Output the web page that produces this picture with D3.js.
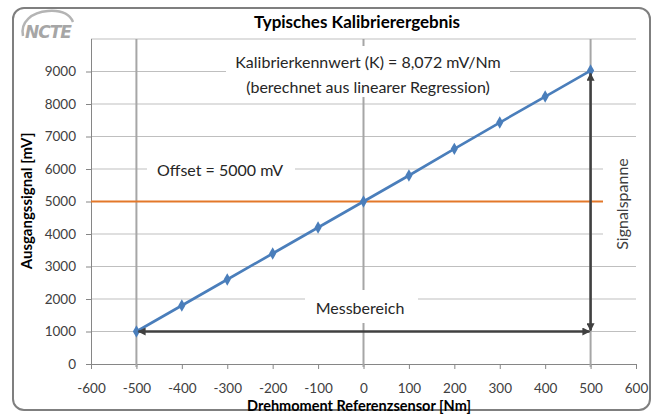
<!DOCTYPE html>
<html>
<head>
<meta charset="utf-8">
<script src="https://cdn.jsdelivr.net/npm/d3@7"></script>
<style>
  body { margin: 0; background: #fff; }
  svg text { font-family: Lato, "Open Sans", sans-serif; }
</style>
</head>
<body>
<div id="chart"></div>
<script>
// Messpunkte (Drehmoment Nm -> Ausgangssignal mV)
const torque = [-500, -400, -300, -200, -100, 0, 100, 200, 300, 400, 500];
const signal = [1000, 1800, 2600, 3400, 4200, 5000, 5800, 6620, 7430, 8230, 9030];
const xTicks = [-600, -500, -400, -300, -200, -100, 0, 100, 200, 300, 400, 500, 600];
const yTicks = [0, 1000, 2000, 3000, 4000, 5000, 6000, 7000, 8000, 9000, 10000];
const refLines = [-500, 0, 500];
const offset = 5000;

const width = 660;
const height = 414;

const svg = d3.select("#chart")
    .append("svg")
    .attr("width", width)
    .attr("height", height);

const x = d3.scaleLinear().domain([-600, 600]).range([91, 636]);
const y = d3.scaleLinear().domain([0, 10000]).range([364, 39]);

// Rahmen
svg.append("rect")
    .attr("x", 13).attr("y", 8)
    .attr("width", 637).attr("height", 402)
    .attr("rx", 11)
    .style("fill", "#fff")
    .style("stroke", "#7f7f7f")
    .style("stroke-width", 2);

// Logo
const logo = svg.append("g").attr("class", "logo");
logo.append("path")
    .attr("d", "M23,36 C20,22 32,12 48,11 C62,10 70,15 73,22")
    .style("fill", "none")
    .style("stroke", "#b4b4b4")
    .style("stroke-width", 2.5);
logo.append("text")
    .attr("x", 25).attr("y", 38)
    .style("font-family", "'DejaVu Sans', sans-serif")
    .style("font-size", "17px")
    .style("font-weight", "bold")
    .style("font-style", "italic")
    .style("fill", "#a6a6a6")
    .style("letter-spacing", "-1px")
    .text("NCTE");

// Titel
svg.append("text")
    .attr("x", 357).attr("y", 28)
    .attr("text-anchor", "middle")
    .style("font-size", "17px")
    .style("font-weight", "bold")
    .style("fill", "#000")
    .text("Typisches Kalibrierergebnis");

// Gitterlinien
svg.append("g")
    .selectAll("line")
    .data(yTicks.filter(d => d > 0))
    .enter()
    .append("line")
    .attr("x1", x(-600)).attr("x2", x(600))
    .attr("y1", d => y(d)).attr("y2", d => y(d))
    .style("stroke", "#bfbfbf")
    .style("stroke-width", 1);

// Achsen
const fmt = d => String(d);
const xAxis = svg.append("g")
    .attr("transform", `translate(0,${y(0)})`)
    .call(d3.axisBottom(x).tickValues(xTicks).tickFormat(fmt).tickSize(5).tickSizeOuter(0));
const yAxis = svg.append("g")
    .attr("transform", `translate(${x(-600)},0)`)
    .call(d3.axisLeft(y).tickValues(yTicks.filter(d => d < 10000)).tickFormat(fmt).tickSize(5).tickSizeOuter(0));

[xAxis, yAxis].forEach(ax => {
    ax.select(".domain").style("stroke", "#868686");
    ax.selectAll(".tick line").style("stroke", "#868686");
    ax.selectAll(".tick text")
        .style("font-family", "Lato, sans-serif")
        .style("font-size", "13.5px")
        .style("fill", "#404040");
});
xAxis.selectAll(".tick text").attr("dy", "1.1em").attr("y", 14);
yAxis.selectAll(".tick text").attr("x", -15);
yAxis.select(".domain").attr("d", `M0.5,${y(0)}V${y(10000)}`);

// Referenzlinien bei -500, 0, 500
svg.append("g")
    .selectAll("line")
    .data(refLines)
    .enter()
    .append("line")
    .attr("x1", d => x(d)).attr("x2", d => x(d))
    .attr("y1", y(10000)).attr("y2", y(0) + 3)
    .style("stroke", "#a6a6a6")
    .style("stroke-width", 2);

// Offset-Linie
svg.append("line")
    .attr("x1", x(-600)).attr("x2", x(600))
    .attr("y1", y(offset)).attr("y2", y(offset))
    .style("stroke", "#e3782a")
    .style("stroke-width", 2.2);

// weisse Textfelder
const boxes = [
    { x: 226, y: 46, w: 284, h: 51 },
    { x: 147, y: 160, w: 148, h: 22 },
    { x: 305, y: 290, w: 113, h: 33 },
    { x: 603, y: 146, w: 36, h: 110 },
];
svg.append("g")
    .selectAll("rect")
    .data(boxes)
    .enter()
    .append("rect")
    .attr("x", d => d.x).attr("y", d => d.y)
    .attr("width", d => d.w).attr("height", d => d.h)
    .style("fill", "#fff");

// Messkurve
const line = d3.line()
    .x((d, i) => x(torque[i]))
    .y(d => y(d));

svg.append("path")
    .datum(signal)
    .attr("d", line)
    .style("fill", "none")
    .style("stroke", "#4a7ebb")
    .style("stroke-width", 2.6);

svg.append("g")
    .selectAll("path")
    .data(signal)
    .enter()
    .append("path")
    .attr("transform", (d, i) => `translate(${x(torque[i])},${y(d)})`)
    .attr("d", d3.symbol().type(d3.symbolDiamond).size(44))
    .style("fill", "#4a7ebb");

// Pfeile
const defs = svg.append("defs");
defs.append("marker")
    .attr("id", "arrow")
    .attr("viewBox", "0 0 10 10")
    .attr("refX", 9).attr("refY", 5)
    .attr("markerWidth", 4).attr("markerHeight", 3.2)
    .attr("markerUnits", "strokeWidth")
    .attr("orient", "auto-start-reverse")
    .append("path")
    .attr("d", "M0,0L10,5L0,10Z")
    .style("fill", "#404040");

svg.append("line")
    .attr("x1", x(-500) + 2).attr("x2", x(500) - 1)
    .attr("y1", y(1000)).attr("y2", y(1000))
    .style("stroke", "#404040")
    .style("stroke-width", 2.5)
    .attr("marker-start", "url(#arrow)")
    .attr("marker-end", "url(#arrow)");

svg.append("line")
    .attr("x1", x(500)).attr("x2", x(500))
    .attr("y1", y(9000) + 2).attr("y2", y(1000) - 1)
    .style("stroke", "#404040")
    .style("stroke-width", 2.5)
    .attr("marker-start", "url(#arrow)")
    .attr("marker-end", "url(#arrow)");

// Beschriftungen
const ann = svg.append("g")
    .style("font-size", "16px")
    .style("fill", "#262626");
ann.append("text")
    .attr("x", 368).attr("y", 68)
    .attr("text-anchor", "middle")
    .text("Kalibrierkennwert  (K) = 8,072 mV/Nm");
ann.append("text")
    .attr("x", 368).attr("y", 93)
    .attr("text-anchor", "middle")
    .text("(berechnet aus linearer  Regression)");
ann.append("text")
    .attr("x", 157).attr("y", 176)
    .text("Offset = 5000 mV");
ann.append("text")
    .attr("x", 360).attr("y", 314)
    .attr("text-anchor", "middle")
    .text("Messbereich");
ann.append("text")
    .attr("transform", "translate(628,204) rotate(-90)")
    .attr("text-anchor", "middle")
    .style("fill", "#404040")
    .text("Signalspanne");

// Achsentitel
svg.append("text")
    .attr("transform", "translate(32,201) rotate(-90)")
    .attr("text-anchor", "middle")
    .style("font-size", "15px")
    .style("font-weight", "bold")
    .style("fill", "#000")
    .text("Ausgangssignal [mV]");
svg.append("text")
    .attr("x", 359).attr("y", 411)
    .attr("text-anchor", "middle")
    .style("font-size", "14.5px")
    .style("font-weight", "bold")
    .style("fill", "#000")
    .text("Drehmoment Referenzsensor [Nm]");
</script>
</body>
</html>
